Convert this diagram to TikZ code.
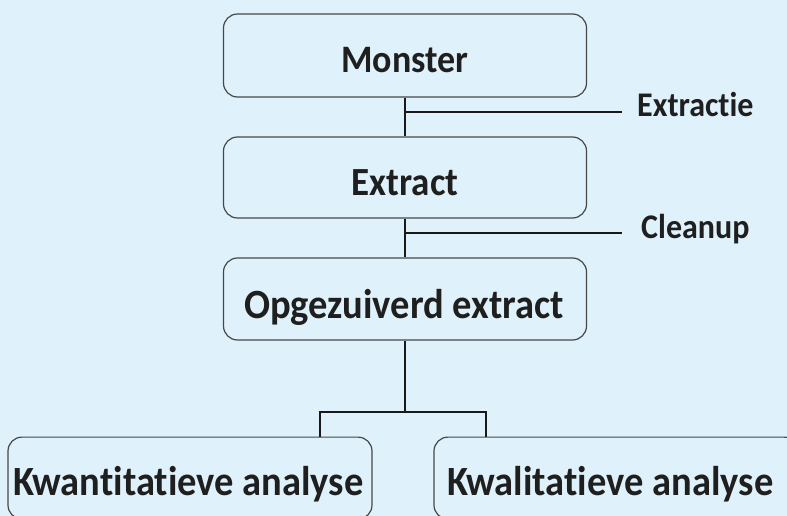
\documentclass[tikz,border=0pt]{standalone}
\usepackage{fontspec}
\setmainfont{Carlito}[Ligatures=NoCommon]
\begin{document}
\begin{tikzpicture}[x=1pt,y=-1pt,
  box/.style={draw=black!72,line width=1.2pt,rounded corners=14pt,fill=bg},
  lbl/.style={anchor=base,inner sep=0pt,text=black!88},
  conn/.style={line width=2.6pt,black!90}]
\definecolor{bg}{RGB}{223,241,250}
\newcommand{\tx}[2]{\scalebox{1}[1.08]{\fontsize{#1}{#1}\selectfont\bfseries #2}}
\fill[bg] (0,0) rectangle (787,516);
\useasboundingbox (0,0) rectangle (787,516);
\node[box,minimum width=363pt,minimum height=83pt] (mon) at (405,55.5) {};
\node[lbl] (tmon) at (405,73) {\tx{36}{Monster}};
\node[box,minimum width=363pt,minimum height=81pt] (ext) at (405,177.5) {};
\node[lbl] (text) at (405,195) {\tx{37}{Extract}};
\node[box,minimum width=363pt,minimum height=82pt] (opg) at (405,299) {};
\node[lbl] (topg) at (404,318) {\tx{38.5}{Opgezuiverd extract}};
\node[box,minimum width=364pt,minimum height=82pt,anchor=north] (kwa) at (190,436.5) {};
\node[lbl,anchor=base west] (tkwa) at (13,495) {\tx{38.5}{Kwantitatieve analyse}};
\node[box,minimum width=364pt,minimum height=82pt,anchor=north] (kwl) at (616,436.5) {};
\node[lbl,anchor=base west] (tkwl) at (447,495) {\tx{38.5}{Kwalitatieve analyse}};
\node[lbl,anchor=base west] (extr) at (637,117) {\tx{32}{Extractie}};
\node[lbl,anchor=base west] (clean) at (641,238) {\tx{32}{Cleanup}};
\coordinate (b1) at (405,112);
\coordinate (e1) at (622,112);
\coordinate (b2) at (405,233);
\coordinate (e2) at (622,233);
\draw[conn] (mon.south) -- (ext.north);
\draw[conn] (b1) -- (e1);
\draw[conn] (ext.south) -- (opg.north);
\draw[conn] (b2) -- (e2);
\coordinate (j) at (405,412);
\coordinate (ja) at (320,437);
\coordinate (jb) at (486,437);
\draw[conn] (opg.south) -- (j);
\draw[conn] (ja) |- (j) -| (jb);
\end{tikzpicture}
\end{document}
